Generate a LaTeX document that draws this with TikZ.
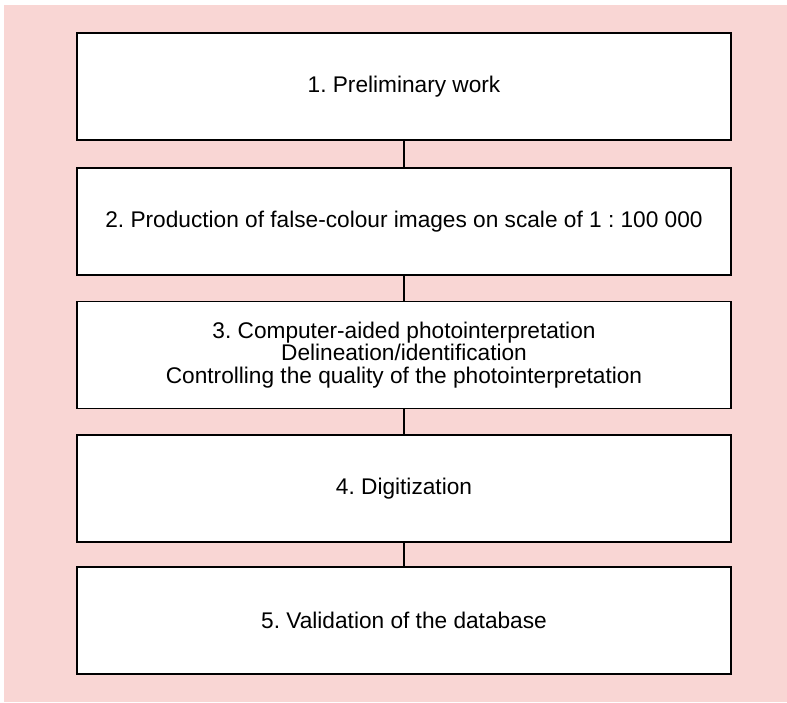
\documentclass[tikz,border=0pt]{standalone}
\usepackage{fontspec}
\setmainfont{Liberation Sans}
\definecolor{bgpink}{RGB}{249,214,212}
\begin{document}
\frenchspacing
\begin{tikzpicture}[x=0.75pt,y=-0.75pt,
  stepbox/.style={draw=black,fill=white,line width=1.1pt,minimum width=490.5pt,minimum height=80.25pt,inner sep=0pt,align=center,font=\fontsize{17}{17}\selectfont\frenchspacing},
  link/.style={draw=black,line width=1.5pt}]
\useasboundingbox (0,0) rectangle (787,702);
\fill[bgpink] (4,5) rectangle (787,702);
\node[stepbox] (s1) at (404,86.5) {1. Preliminary work};
\node[stepbox] (s2) at (404,221.5) {2. Production of false-colour images on scale of 1 : 100 000};
\node[stepbox] (s3) at (404,355) {3. Computer-aided photointerpretation\\Delineation/identification\\Controlling the quality of the photointerpretation};
\node[stepbox] (s4) at (404,488.5) {4. Digitization};
\node[stepbox] (s5) at (404,620.5) {5. Validation of the database};
\draw[link] (s1) -- (s2);
\draw[link] (s2) -- (s3);
\draw[link] (s3) -- (s4);
\draw[link] (s4) -- (s5);
\end{tikzpicture}
\end{document}
